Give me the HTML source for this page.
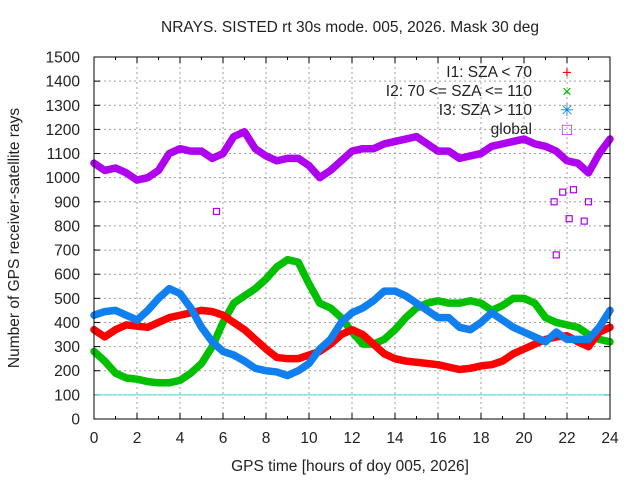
<!DOCTYPE html>
<html><head><meta charset="utf-8"><style>
body{margin:0;background:#fff;width:640px;height:480px;overflow:hidden}
svg{font-family:"Liberation Sans",sans-serif}
</style></head><body>
<svg id="chart" width="640" height="480"></svg>
<script>
const hours=[0,0.5,1,1.5,2,2.5,3,3.5,4,4.5,5,5.5,6,6.5,7,7.5,8,8.5,9,9.5,10,10.5,11,11.5,12,12.5,13,13.5,14,14.5,15,15.5,16,16.5,17,17.5,18,18.5,19,19.5,20,20.5,21,21.5,22,22.5,23,23.5,24];
const i1Values=[370,340,370,390,385,380,400,420,430,440,450,445,430,400,370,330,290,255,250,250,265,280,310,350,370,350,310,270,250,240,235,230,225,215,205,210,220,225,240,270,290,310,330,340,345,320,300,360,380];
const i2Values=[280,240,190,170,165,155,150,150,160,190,230,300,400,480,510,540,580,630,660,650,560,480,460,420,360,310,310,330,370,420,460,480,490,480,480,490,480,450,470,500,500,480,420,400,390,380,350,330,320];
const i3Values=[430,445,450,430,410,450,500,540,520,460,380,320,280,265,240,210,200,195,180,200,230,290,330,400,440,460,490,530,530,510,480,450,420,420,380,370,400,440,410,380,360,340,320,360,330,330,330,380,450];
const globalValues=[1060,1030,1040,1020,990,1000,1030,1100,1120,1110,1110,1080,1100,1170,1190,1120,1090,1070,1080,1080,1050,1000,1030,1070,1110,1120,1120,1140,1150,1160,1170,1140,1110,1110,1080,1090,1100,1130,1140,1150,1160,1140,1130,1110,1070,1060,1020,1100,1160];
const outlierHours=[5.7,21.4,21.5,21.8,22.1,22.3,22.8,23.0];
const outlierValues=[860,900,680,940,830,950,820,900];
const xTicks=[0,2,4,6,8,10,12,14,16,18,20,22,24];
const yTicks=[0,100,200,300,400,500,600,700,800,900,1000,1100,1200,1300,1400,1500];

const L=94,R=610,T=57,B=419;
const xs=h=>L+(R-L)*h/24;
const ys=v=>B-(B-T)*v/1500;
const svg=document.getElementById('chart');
const NS='http://www.w3.org/2000/svg';
function mk(tag,attrs,parent){const e=document.createElementNS(NS,tag);for(const k in attrs)e.setAttribute(k,attrs[k]);(parent||svg).appendChild(e);return e;}

xTicks.forEach(t=>{
  if(t>0&&t<24){const g=mk('line',{x1:xs(t),x2:xs(t),y1:T,y2:B,stroke:'#a0a0a0','stroke-dasharray':'2,3'});
  
  }
  const l=mk('text',{x:xs(t),y:B+24,'text-anchor':'middle','font-size':15.5,fill:'#222'});l.textContent=t;
  
  
  mk('line',{x1:xs(t),x2:xs(t),y1:B,y2:B-6,stroke:'#000'});
  mk('line',{x1:xs(t),x2:xs(t),y1:T,y2:T+6,stroke:'#000'});
  if(t<24){mk('line',{x1:xs(t+1),x2:xs(t+1),y1:B,y2:B-3,stroke:'#000'});mk('line',{x1:xs(t+1),x2:xs(t+1),y1:T,y2:T+3,stroke:'#000'});}
});
yTicks.forEach(t=>{
  if(t>0&&t<1500){const g=mk('line',{x1:L,x2:R,y1:ys(t),y2:ys(t),stroke:'#a0a0a0','stroke-dasharray':'2,3'});
  
  }
  const l=mk('text',{x:L-14,y:ys(t)+5.5,'text-anchor':'end','font-size':15.5,fill:'#222'});l.textContent=t;
  
  
  mk('line',{x1:L,x2:L+6,y1:ys(t),y2:ys(t),stroke:'#000'});
  mk('line',{x1:R,x2:R-6,y1:ys(t),y2:ys(t),stroke:'#000'});
});
const mask=mk('line',{x1:L,x2:R,y1:ys(100),y2:ys(100),stroke:'#5cd0d0','stroke-width':1});



function series(vals,color,name){
  const p=mk('polyline',{points:hours.map((h,i)=>xs(h)+','+ys(vals[i])).join(' '),fill:'none',stroke:color,'stroke-width':7.5,'stroke-linejoin':'round','stroke-linecap':'round'});
  
  
}
series(globalValues,'#b000f0','series-global');
series(i2Values,'#00c000','series-i2');
series(i1Values,'#ff0000','series-i1');
series(i3Values,'#1080f0','series-i3');
outlierHours.forEach((h,i)=>{
  const r=mk('rect',{x:xs(h)-3,y:ys(outlierValues[i])-3,width:6,height:6,fill:'none',stroke:'#b000f0','stroke-width':1.2});
  
  
});

const frame=mk('rect',{x:L,y:T,width:R-L,height:B-T,fill:'none',stroke:'#000','stroke-width':1});



const leg=[['I1: SZA < 70','#ff0000','+'],['I2: 70 <= SZA <= 110','#00c000','×'],['I3: SZA > 110','#1080f0','✳'],['global','#b000f0','□']];
leg.forEach((d,i)=>{
  const y=77+i*19;
  const t=mk('text',{x:532,y:y,'text-anchor':'end','font-size':15.5,fill:'#222'});t.textContent=d[0];
  
  
  const s=mk('text',{x:567,y:y+1,'text-anchor':'middle','font-size':17,fill:d[1]});s.textContent=d[2];
  
  
});

const title=mk('text',{x:350,y:32,'text-anchor':'middle','font-size':15.5,fill:'#222'});
title.textContent='NRAYS. SISTED rt 30s mode. 005, 2026. Mask 30 deg';


const xl=mk('text',{x:350,y:471,'text-anchor':'middle','font-size':15.5,fill:'#222'});
xl.textContent='GPS time [hours of doy 005, 2026]';


const yl=mk('text',{x:0,y:0,'text-anchor':'middle','font-size':15.5,fill:'#222',transform:'translate(19,238) rotate(-90)'});
yl.textContent='Number of GPS receiver-satellite rays';


</script>
</body></html>
